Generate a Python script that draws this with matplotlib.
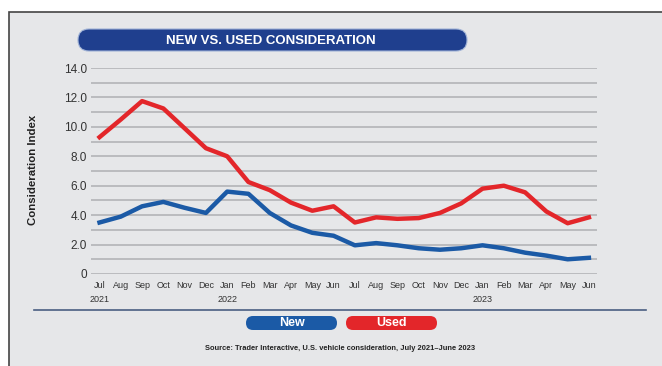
import matplotlib
matplotlib.use("Agg")
import matplotlib.pyplot as plt
from matplotlib.patches import FancyBboxPatch, Rectangle
from matplotlib import font_manager

months = ["Jul", "Aug", "Sep", "Oct", "Nov", "Dec", "Jan", "Feb", "Mar", "Apr", "May", "Jun",
          "Jul", "Aug", "Sep", "Oct", "Nov", "Dec", "Jan", "Feb", "Mar", "Apr", "May", "Jun"]
years = {0: "2021", 6: "2022", 18: "2023"}
used = [9.3, 10.5, 11.75, 11.25, 9.9, 8.55, 8.0, 6.25, 5.7, 4.85, 4.3, 4.6,
        3.5, 3.85, 3.75, 3.8, 4.15, 4.8, 5.8, 6.0, 5.55, 4.25, 3.45, 3.85]
new = [3.5, 3.9, 4.6, 4.9, 4.5, 4.15, 5.6, 5.45, 4.15, 3.3, 2.8, 2.6,
       1.95, 2.1, 1.95, 1.75, 1.65, 1.75, 1.95, 1.75, 1.45, 1.25, 1.0, 1.1]
yticks = [0, 2, 4, 6, 8, 10, 12, 14]
ytick_labels = ["0", "2.0", "4.0", "6.0", "8.0", "10.0", "12.0", "14.0"]
title = "NEW VS. USED CONSIDERATION"
ylabel = "Consideration Index"
source = "Source: Trader Interactive, U.S. vehicle consideration, July 2021\u2013June 2023"

names = {f.name for f in font_manager.fontManager.ttflist}
FONT = "Liberation Sans Narrow" if "Liberation Sans Narrow" in names else "Liberation Sans"
plt.rcParams["font.family"] = [FONT, "DejaVu Sans"]

W, H = 662, 366
BG = "#e6e7e9"
RED = "#e3262a"
BLUE = "#1b5aa6"
NAVY = "#1f3f8e"
TXT = "#333333"

fig = plt.figure(figsize=(W / 100, H / 100), dpi=100)
fig.patch.set_facecolor("white")

# background overlay axes in pixel coordinates
bg = fig.add_axes([0, 0, 1, 1], zorder=0)
bg.set_xlim(0, W)
bg.set_ylim(H, 0)
bg.axis("off")
bg.add_patch(Rectangle((9, 12), W, H, facecolor=BG, edgecolor="#444444", linewidth=1.2))

bg.add_patch(FancyBboxPatch((78, 29), 389, 22, boxstyle="round,pad=0,rounding_size=11",
                            facecolor=NAVY, edgecolor="#9fb2d6", linewidth=0.8))
bg.text(271, 40.5, title, color="white", fontsize=9.5, fontweight="bold",
        ha="center", va="center")
bg.text(33, 170, ylabel, rotation=90, fontsize=8.2, fontweight="bold",
        ha="center", va="center", color="#222222")
bg.plot([34, 646], [310, 310], color="#4a5f82", linewidth=1.2)
for (lx, lbl, col) in [(246, "New", BLUE), (346, "Used", RED)]:
    bg.add_patch(FancyBboxPatch((lx, 316), 91, 14, boxstyle="round,pad=0,rounding_size=7",
                                facecolor=col, edgecolor="none"))
    bg.text(lx + 45.5, 323.5, lbl, color="white", fontsize=9, fontweight="bold",
            ha="center", va="center")
bg.text(340, 349, source, fontsize=5.4, fontweight="bold", color="#222222",
        ha="center", va="center")

# chart axes
x0, x1 = 91, 597
y_top, y_bot = 68, 274
ax = fig.add_axes([x0 / W, 1 - y_bot / H, (x1 - x0) / W, (y_bot - y_top) / H], zorder=2)
ax.patch.set_alpha(0)
n = len(months)
xs = list(range(n))
ax.set_xlim(-0.4, n - 1 + 0.38)
ax.set_ylim(0, 14)
for v in range(0, 15):
    ax.axhline(v, color="#b3b4b7", linewidth=1.2, zorder=1)
ax.plot(xs, used, color=RED, linewidth=3.2, zorder=3, solid_joinstyle="round")
ax.plot(xs, new, color=BLUE, linewidth=3.2, zorder=3, solid_joinstyle="round")
for s in ax.spines.values():
    s.set_visible(False)
ax.set_yticks(yticks)
ax.set_yticklabels(ytick_labels, fontsize=8.5, color=TXT)
ax.set_xticks(xs)
ax.set_xticklabels(months, fontsize=6.5, color=TXT)
ax.tick_params(axis="x", length=0, pad=5)
ax.tick_params(axis="y", length=0, pad=3)
for i, yr in years.items():
    ax.text(i, -1.45, yr, fontsize=6.5, color=TXT, ha="center", va="top")

fig.savefig("out.png", dpi=100, facecolor=fig.get_facecolor())
